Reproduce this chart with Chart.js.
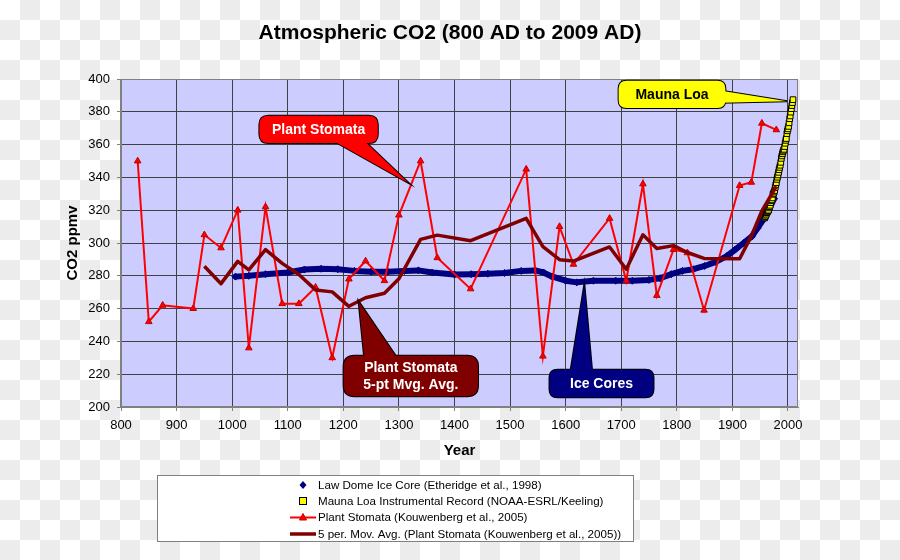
<!DOCTYPE html>
<html>
<head>
<meta charset="utf-8">
<script src="https://cdn.jsdelivr.net/npm/chart.js@4/dist/chart.umd.min.js"></script>
<style>
  html, body { margin: 0; padding: 0; }
  #wrap {
    width: 900px; height: 560px; position: relative;
    background: repeating-conic-gradient(#ececec 0% 25%, #ffffff 0% 50%) 0 0 / 40px 40px;
  }
  canvas { display: block; }
</style>
</head>
<body>
<div id="wrap"><canvas id="c" width="900" height="560"></canvas></div>
<script>
// ---------------- DATA ----------------
const chartTitle = 'Atmospheric CO2 (800 AD to 2009 AD)';
const xTitle = 'Year';
const yTitle = 'CO2 ppmv';

const iceLabel = 'Law Dome Ice Core (Etheridge et al., 1998)';
const iceYears = [1006, 1030, 1060, 1100, 1130, 1160, 1190, 1220, 1250, 1280, 1310, 1335, 1360, 1400, 1430, 1460, 1490, 1520, 1545, 1560, 1575, 1600, 1620, 1650, 1690, 1720, 1750, 1770, 1790, 1810, 1830, 1850, 1870, 1890, 1905, 1920, 1935, 1945, 1955, 1965, 1975];
const iceCO2   = [279.5, 280, 281, 282, 283.8, 284.3, 284, 283, 282.5, 282.5, 283, 283.3, 282, 280.8, 281, 281.3, 281.7, 283, 283.3, 282, 279.6, 277, 276, 277, 277, 277, 277.5, 278.5, 281, 283, 284, 286, 288.5, 292, 296, 300, 304, 309, 314, 320, 327];

const maunaLabel = 'Mauna Loa Instrumental Record (NOAA-ESRL/Keeling)';
const maunaYears = [1958, 1959, 1960, 1961, 1962, 1963, 1964, 1965, 1966, 1967, 1968, 1969, 1970, 1971, 1972, 1973, 1974, 1975, 1976, 1977, 1978, 1979, 1980, 1981, 1982, 1983, 1984, 1985, 1986, 1987, 1988, 1989, 1990, 1991, 1992, 1993, 1994, 1995, 1996, 1997, 1998, 1999, 2000, 2001, 2002, 2003, 2004, 2005, 2006, 2007, 2008, 2009];
const maunaCO2   = [315.3, 316.0, 316.9, 317.6, 318.5, 319.0, 319.6, 320.0, 321.4, 322.2, 323.0, 324.6, 325.7, 326.3, 327.5, 329.7, 330.2, 331.1, 332.0, 333.8, 335.4, 336.8, 338.8, 340.1, 341.5, 343.1, 344.7, 346.1, 347.4, 349.2, 351.6, 353.1, 354.4, 355.6, 356.5, 357.1, 358.8, 360.8, 362.6, 363.7, 366.7, 368.4, 369.6, 371.1, 373.3, 375.8, 377.5, 379.8, 381.9, 383.8, 385.6, 387.4];

const stomataLabel = 'Plant Stomata (Kouwenberg et al., 2005)';
const stomataYears = [830, 850, 875, 930, 950, 980, 1010, 1030, 1060, 1090, 1120, 1150, 1180, 1210, 1240, 1274, 1300, 1339, 1369, 1429, 1529, 1559, 1589, 1614, 1679, 1709, 1739, 1764, 1794, 1819, 1849, 1913, 1934, 1953, 1979];
const stomataCO2   = [350, 252, 262, 260, 305, 297, 320, 236, 322, 263, 263, 273, 230, 278, 289, 277, 317, 350, 291, 272, 345, 231, 310, 287, 315, 277, 336, 268, 296, 294, 259, 335, 337, 373, 369];

const maLabel = '5 per. Mov. Avg. (Plant Stomata (Kouwenberg et al., 2005))';
const maYears = [950, 980, 1010, 1030, 1060, 1090, 1120, 1150, 1180, 1210, 1240, 1274, 1300, 1339, 1369, 1429, 1529, 1559, 1589, 1614, 1679, 1709, 1739, 1764, 1794, 1819, 1849, 1913, 1934, 1953, 1979];
const maCO2   = [285.8, 275.2, 288.8, 283.6, 296, 287.6, 280.8, 271.4, 270.2, 261.4, 266.6, 269.4, 278.2, 302.2, 304.8, 301.4, 315, 297.8, 289.8, 289, 297.6, 284, 305, 296.6, 298.4, 294.2, 290.6, 290.4, 304.2, 319.6, 334.6];

const xMin = 800, xMax = 2018, xStep = 100;
const yMin = 200, yMax = 400, yStep = 20;

// Callout annotations (text)
const calloutTexts = {
  stomata: ['Plant Stomata'],
  ma: ['Plant Stomata', '5-pt Mvg. Avg.'],
  ice: ['Ice Cores'],
  mauna: ['Mauna Loa']
};
// --------------------------------------------------------------------------

const FONT = "'Liberation Sans', Arial, Helvetica, sans-serif";
Chart.defaults.font.family = FONT;
Chart.defaults.color = '#000';

function pts(xs, ys) { return xs.map((x, i) => ({ x: x, y: ys[i] })); }

const callouts = [
  { lines: calloutTexts.stomata, fill: '#ff0000', textColor: '#ffffff', r: 9,
    box: [1049, 1262, 377.6, 361.0], edge: 'bottom', base: [1176, 1234], tip: [1317.5, 336.6] },
  { lines: calloutTexts.ma, fill: '#800000', textColor: '#ffffff', r: 11,
    box: [1200.5, 1442.3, 231.3, 206.5], edge: 'top', base: [1238, 1299], tip: [1227.5, 264.4] },
  { lines: calloutTexts.ice, fill: '#000080', textColor: '#ffffff', r: 8,
    box: [1571, 1758, 222.7, 206.0], edge: 'top', base: [1608, 1648], tip: [1633.6, 274.6] },
  { lines: calloutTexts.mauna, fill: '#ffff00', textColor: '#000000', r: 8,
    box: [1695.3, 1887.3, 399, 382.3], edge: 'right', base: [392.8, 385.5], tip: [1998.3, 386.5] }
];

function roundRectPath(ctx, x, y, w, h, r) {
  ctx.beginPath();
  ctx.moveTo(x + r, y);
  ctx.lineTo(x + w - r, y);
  ctx.quadraticCurveTo(x + w, y, x + w, y + r);
  ctx.lineTo(x + w, y + h - r);
  ctx.quadraticCurveTo(x + w, y + h, x + w - r, y + h);
  ctx.lineTo(x + r, y + h);
  ctx.quadraticCurveTo(x, y + h, x, y + h - r);
  ctx.lineTo(x, y + r);
  ctx.quadraticCurveTo(x, y, x + r, y);
  ctx.closePath();
}

const plotBg = {
  id: 'plotBg',
  beforeDraw(chart) {
    const { ctx, chartArea: a } = chart;
    ctx.save();
    ctx.fillStyle = '#ccccff';
    ctx.fillRect(a.left, a.top, a.right - a.left, a.bottom - a.top);
    // chart title, centred on the whole picture
    ctx.fillStyle = '#000';
    ctx.font = 'bold 21px ' + FONT;
    ctx.textAlign = 'center';
    ctx.textBaseline = 'middle';
    ctx.fillText(chartTitle, 450, 33);
    ctx.restore();
  },
  beforeDatasetsDraw(chart) {
    const { ctx, chartArea: a } = chart;
    ctx.save();
    ctx.strokeStyle = '#808080';
    ctx.lineWidth = 1;
    ctx.strokeRect(Math.round(a.left) - 0.5, Math.round(a.top) + 0.5,
                   Math.round(a.right - a.left), Math.round(a.bottom - a.top) - 1);
    ctx.restore();
  }
};

const calloutPlugin = {
  id: 'callouts',
  afterDatasetsDraw(chart) {
    const { ctx } = chart;
    const xs = chart.scales.x, ys = chart.scales.y;
    ctx.save();
    callouts.forEach(c => {
      const xa = xs.getPixelForValue(c.box[0]), xb = xs.getPixelForValue(c.box[1]);
      const ya = ys.getPixelForValue(c.box[2]), yb = ys.getPixelForValue(c.box[3]);
      const L = Math.min(xa, xb), R = Math.max(xa, xb), T = Math.min(ya, yb), B = Math.max(ya, yb);
      let b0, b1;
      const inset = 4;
      if (c.edge === 'bottom') {
        b0 = [xs.getPixelForValue(c.base[0]), B - inset]; b1 = [xs.getPixelForValue(c.base[1]), B - inset];
      } else if (c.edge === 'top') {
        b0 = [xs.getPixelForValue(c.base[0]), T + inset]; b1 = [xs.getPixelForValue(c.base[1]), T + inset];
      } else {
        b0 = [R - inset, ys.getPixelForValue(c.base[0])]; b1 = [R - inset, ys.getPixelForValue(c.base[1])];
      }
      const tip = [xs.getPixelForValue(c.tip[0]), ys.getPixelForValue(c.tip[1])];
      const wedge = () => {
        ctx.beginPath(); ctx.moveTo(b0[0], b0[1]); ctx.lineTo(tip[0], tip[1]); ctx.lineTo(b1[0], b1[1]); ctx.closePath();
      };
      ctx.lineJoin = 'miter';
      ctx.strokeStyle = '#000000';
      ctx.lineWidth = 2;
      roundRectPath(ctx, L, T, R - L, B - T, c.r); ctx.stroke();
      wedge(); ctx.stroke();
      ctx.fillStyle = c.fill;
      roundRectPath(ctx, L, T, R - L, B - T, c.r); ctx.fill();
      wedge(); ctx.fill();
      ctx.fillStyle = c.textColor;
      ctx.font = 'bold 14px ' + FONT;
      ctx.textAlign = 'center';
      ctx.textBaseline = 'middle';
      const cx = (L + R) / 2, cy = (T + B) / 2;
      const lh = 17;
      const n = c.lines.length;
      c.lines.forEach((t, i) => ctx.fillText(t, cx, cy + (i - (n - 1) / 2) * lh + 1));
    });
    ctx.restore();
  }
};

const legendPlugin = {
  id: 'boxLegend',
  afterDraw(chart) {
    const { ctx } = chart;
    const ds = chart.data.datasets;
    const byKey = k => ds.find(d => d.key === k);
    ctx.save();
    const L = 157, T = 475, W = 476, H = 66;
    ctx.fillStyle = '#ffffff';
    ctx.fillRect(L, T, W, H);
    ctx.strokeStyle = '#808080';
    ctx.lineWidth = 1;
    ctx.strokeRect(L + 0.5, T + 0.5, W, H);
    const mx = 303, tx = 318;
    const rows = [485, 501, 517.5, 534];
    const order = ['ice', 'mauna', 'stomata', 'ma'];
    ctx.font = '11.6px ' + FONT;
    ctx.textAlign = 'left';
    ctx.textBaseline = 'middle';
    order.forEach((k, i) => {
      const d = byKey(k);
      const y = rows[i];
      if (k === 'ice') {
        ctx.fillStyle = '#000080';
        ctx.beginPath(); ctx.moveTo(mx, y - 4); ctx.lineTo(mx + 3.5, y); ctx.lineTo(mx, y + 4); ctx.lineTo(mx - 3.5, y); ctx.closePath(); ctx.fill();
      } else if (k === 'mauna') {
        ctx.fillStyle = '#ffff00'; ctx.fillRect(mx - 3.5, y - 3.5, 7, 7);
        ctx.strokeStyle = '#000'; ctx.lineWidth = 1; ctx.strokeRect(mx - 3.5, y - 3.5, 7, 7);
      } else if (k === 'stomata') {
        ctx.strokeStyle = '#ff0000'; ctx.lineWidth = 2;
        ctx.beginPath(); ctx.moveTo(290, y); ctx.lineTo(316, y); ctx.stroke();
        ctx.fillStyle = '#ff0000'; ctx.strokeStyle = '#cc0000'; ctx.lineWidth = 1;
        ctx.beginPath(); ctx.moveTo(mx, y - 4); ctx.lineTo(mx + 3.5, y + 2.5); ctx.lineTo(mx - 3.5, y + 2.5); ctx.closePath(); ctx.fill(); ctx.stroke();
      } else {
        ctx.strokeStyle = '#800000'; ctx.lineWidth = 3.5;
        ctx.beginPath(); ctx.moveTo(290, y); ctx.lineTo(316, y); ctx.stroke();
      }
      ctx.fillStyle = '#000';
      ctx.fillText(d.label, tx, y + 0.5);
    });
    ctx.restore();
  }
};

const gridColor = '#404040';

new Chart(document.getElementById('c'), {
  type: 'scatter',
  data: {
    datasets: [
      { key: 'ice', label: iceLabel, data: pts(iceYears, iceCO2), showLine: true, order: 4,
        borderColor: '#000080', borderWidth: 6, borderCapStyle: 'round', borderJoinStyle: 'round',
        pointStyle: 'rectRot', pointRadius: 3.5, pointBackgroundColor: '#000080', pointBorderColor: '#000080', pointBorderWidth: 1 },
      { key: 'mauna', label: maunaLabel, data: pts(maunaYears, maunaCO2), showLine: false, order: 3,
        pointStyle: 'rect', pointRadius: 4, pointBackgroundColor: '#ffff00', pointBorderColor: '#000000', pointBorderWidth: 1 },
      { key: 'stomata', label: stomataLabel, data: pts(stomataYears, stomataCO2), showLine: true, order: 2,
        borderColor: '#ff0000', borderWidth: 2,
        pointStyle: 'triangle', pointRadius: 3.8, pointBackgroundColor: '#ff0000', pointBorderColor: '#c00000', pointBorderWidth: 1 },
      { key: 'ma', label: maLabel, data: pts(maYears, maCO2), showLine: true, order: 1,
        borderColor: '#800000', borderWidth: 3.5, borderJoinStyle: 'round', pointRadius: 0 }
    ]
  },
  options: {
    responsive: false,
    animation: false,
    events: [],
    layout: { padding: { left: 0, right: 102, top: 79, bottom: 99 } },
    plugins: {
      legend: { display: false },
      tooltip: { enabled: false },
      title: { display: false }
    },
    scales: {
      x: {
        type: 'linear', min: xMin, max: xMax,
        afterBuildTicks: s => { s.ticks = s.ticks.filter(t => t.value % xStep === 0); },
        afterFit: s => { s.height = 54; },
        ticks: { stepSize: xStep, includeBounds: false, color: '#000', font: { size: 13, family: FONT }, padding: 7,
                 maxRotation: 0, autoSkip: false, callback: v => String(v) },
        grid: { color: gridColor, lineWidth: 1, tickLength: 4, tickColor: '#808080' },
        border: { color: '#808080', width: 1 },
        title: { display: true, text: xTitle, color: '#000', font: { size: 15, weight: 'bold', family: FONT }, padding: { top: 0, bottom: 1 } }
      },
      y: {
        type: 'linear', min: yMin, max: yMax,
        afterFit: s => { s.width = 121; },
        ticks: { stepSize: yStep, color: '#000', font: { size: 13, family: FONT }, padding: 7, callback: v => String(v) },
        grid: { color: gridColor, lineWidth: 1, tickLength: 4, tickColor: '#808080' },
        border: { color: '#808080', width: 1 },
        title: { display: true, text: yTitle, color: '#000', font: { size: 15, weight: 'bold', family: FONT }, padding: { top: 63.5, bottom: 0 } }
      }
    }
  },
  plugins: [plotBg, calloutPlugin, legendPlugin]
});
</script>
</body>
</html>
